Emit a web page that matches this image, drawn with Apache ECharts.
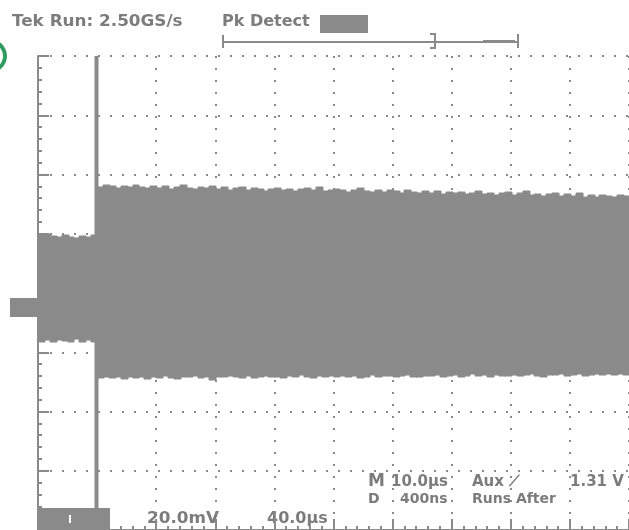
<!DOCTYPE html>
<html>
<head>
<meta charset="utf-8">
<script src="https://cdn.jsdelivr.net/npm/echarts@6/dist/echarts.min.js"></script>
<style>html,body{margin:0;padding:0;background:#fff;}#c{width:629px;height:530px;}</style>
</head>
<body>
<div id="c"></div>
<script>
// Time in µs (10 µs/div), voltage in mV (20 mV/div)
const preStart = 0;     // pre-burst bins start (µs), 1 µs bins
const preHi = [19.6, 20.0, 19.2, 18.8, 19.5, 19.0, 18.5, 19.3, 18.8, 19.5];
const preLo = [-16.5, -16.0, -16.5, -15.8, -16.3, -16.6, -15.6, -16.4, -15.8, -16.5];
const burstStart = 10;  // burst bins start (µs), 1 µs bins
const burstHi = [
  35.8, 36.4, 36.0, 35.5, 36.2, 35.7, 36.5, 35.9, 35.3, 36.0,
  35.6, 36.1, 35.2, 35.8, 36.3, 35.4, 35.0, 35.9, 35.5, 36.0,
  35.1, 35.7, 34.6, 35.3, 35.8, 34.9, 35.4, 35.0, 34.5, 35.2,
  35.6, 34.8, 35.1, 34.4, 35.0, 35.4, 34.7, 35.9, 34.3, 34.9,
  35.2, 34.6, 34.1, 34.8, 35.3, 34.5, 34.0, 34.7, 34.2, 34.9,
  34.4, 33.8, 34.6, 34.1, 33.6, 34.3, 33.9, 34.5, 33.5, 34.0,
  33.7, 34.2, 33.3, 33.9, 34.4, 33.4, 33.8, 33.1, 33.6, 34.1,
  33.2, 33.7, 34.3, 33.0, 33.5, 32.8, 33.4, 33.9, 32.7, 33.3,
  32.9, 33.6, 32.5, 33.1, 32.4, 33.2, 32.8, 32.3, 33.0, 32.6
];
const burstLo = [
  -28.6, -28.3, -28.8, -28.4, -28.9, -28.2, -28.7, -28.5, -29.0, -28.4,
  -28.6, -28.1, -28.7, -28.9, -28.3, -28.5, -28.0, -28.6, -28.4, -29.2,
  -28.3, -28.5, -27.9, -28.4, -28.6, -28.1, -28.8, -28.3, -28.0, -28.5,
  -28.2, -28.7, -28.1, -28.4, -27.8, -28.3, -28.6, -28.0, -28.4, -28.1,
  -28.5, -27.9, -28.3, -28.0, -28.6, -28.2, -27.8, -28.4, -28.1, -27.9,
  -28.3, -28.0, -27.7, -28.2, -28.5, -27.9, -28.1, -27.6, -28.3, -28.0,
  -27.8, -28.2, -27.9, -27.5, -28.1, -27.8, -28.3, -27.7, -27.9, -28.0,
  -27.6, -28.1, -27.8, -27.4, -27.9, -28.2, -27.6, -27.8, -27.5, -28.0,
  -27.7, -27.4, -27.9, -27.6, -27.3, -27.8, -27.5, -27.7, -27.4, -27.6
];
const spikeT = [9.7, 10.0];   // µs, start/end of spike
const spikeLo = -80, spikeHi = 80;

const GRAY = '#8a8a8a';
const data = [];
preHi.forEach((h, i) => data.push([preStart + i, preStart + i + 1, preLo[i], h]));
burstHi.forEach((h, i) => data.push([burstStart + i, burstStart + i + 1, burstLo[i], h]));
data.push([spikeT[0], spikeT[1], spikeLo, spikeHi]);

function renderItem(params, api) {
  const p1 = api.coord([api.value(0), api.value(3)]);
  const p2 = api.coord([api.value(1), api.value(2)]);
  return {type: 'rect',
          shape: {x: Math.round(p1[0]), y: Math.round(p1[1]), width: Math.round(p2[0]) - Math.round(p1[0]) + 1, height: Math.round(p2[1]) - Math.round(p1[1])},
          style: {fill: GRAY, stroke: GRAY, lineWidth: 1}};
}

const dotted = {show: true, lineStyle: {color: GRAY, width: 2, type: [2, 10]}};
const axLine = {show: true, lineStyle: {color: GRAY, width: 2}};
const tick = {show: true, inside: true, length: 11, lineStyle: {color: GRAY, width: 2}};
const minor = {show: true, splitNumber: 5, length: 4, lineStyle: {color: GRAY, width: 2}};

const chart = echarts.init(document.getElementById('c'), null, {renderer: 'canvas'});
const txt = (x, y, s, size, sx) => ({type: 'text', x: x, y: y, scaleX: sx || 1,
  style: {text: s, fill: '#7c7c7c', font: 'bold ' + size + 'px "DejaVu Sans"'}});
chart.setOption({
  animation: false,
  backgroundColor: '#ffffff',
  grid: {left: 38, top: 56, width: 598, height: 476, show: false},
  xAxis: [
    {type: 'value', min: 0, max: 100, interval: 10, position: 'top', axisLine: axLine, axisTick: tick,
     minorTick: minor, axisLabel: {show: false}, splitLine: dotted},
    {type: 'value', min: 0, max: 100, interval: 10, position: 'bottom', axisLine: axLine, axisTick: tick,
     minorTick: minor, axisLabel: {show: false}, splitLine: {show: false}}
  ],
  yAxis: [
    {type: 'value', min: -80, max: 80, interval: 20, position: 'left', axisLine: axLine, axisTick: tick,
     minorTick: minor, axisLabel: {show: false}, splitLine: dotted}
  ],
  series: [{type: 'custom', renderItem: renderItem, data: data, encode: {x: [0, 1], y: [2, 3]}, clip: true,
            silent: true}],
  graphic: [
    txt(12, 14, 'Tek Run: 2.50GS/s', 16, 1.05),
    txt(222, 14, 'Pk Detect', 16, 1.0),
    {type: 'rect', shape: {x: 320, y: 15, width: 48, height: 18}, style: {fill: GRAY}},
    // record-length bar
    {type: 'polyline', shape: {points: [[223, 35], [223, 48]]}, style: {stroke: GRAY, lineWidth: 2}},
    {type: 'polyline', shape: {points: [[223, 42], [518, 42]]}, style: {stroke: GRAY, lineWidth: 2}},
    {type: 'polyline', shape: {points: [[430, 34], [435, 34], [435, 48], [430, 48]]}, style: {stroke: GRAY, lineWidth: 2, fill: null}},
    {type: 'polyline', shape: {points: [[518, 34], [518, 48]]}, style: {stroke: GRAY, lineWidth: 2}},
    {type: 'rect', shape: {x: 483, y: 40, width: 32, height: 3}, style: {fill: GRAY}},
    // green channel mark
    {type: 'arc', shape: {cx: -10, cy: 56, r: 15, startAngle: -Math.PI / 2.6, endAngle: Math.PI / 2.6}, style: {stroke: '#2f9d5f', lineWidth: 4, fill: null}},
    // ground marker
    {type: 'rect', shape: {x: 10, y: 298, width: 28, height: 19}, style: {fill: GRAY}},
    // bottom channel readout box
    {type: 'rect', shape: {x: 38, y: 508, width: 72, height: 24}, style: {fill: GRAY}},
    {type: 'rect', shape: {x: 69, y: 515, width: 2, height: 8}, style: {fill: '#ffffff'}},
    txt(147, 511, '20.0mV', 16, 1.05),
    txt(267, 511, '40.0µs', 16, 1.0),
    txt(368, 473, 'M', 17, 1.0),
    txt(391, 475, '10.0µs', 15, 1.0),
    txt(472, 475, 'Aux ⟋', 15, 1.0),
    txt(570, 475, '1.31 V', 15, 1.0),
    txt(368, 492, 'D', 14, 1.0),
    txt(400, 492, '400ns', 14, 1.0),
    txt(472, 492, 'Runs After', 14, 1.0)
  ]
});
</script>
</body>
</html>
